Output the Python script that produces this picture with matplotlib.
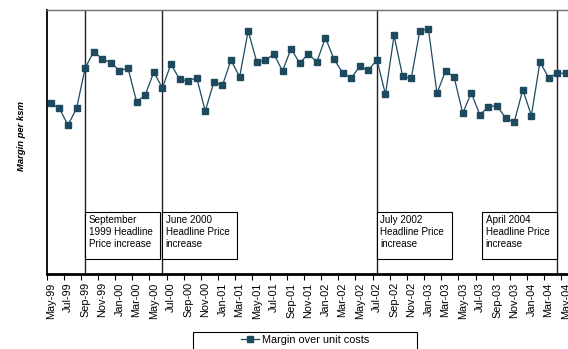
import pandas as pd
import matplotlib.pyplot as plt
import matplotlib.transforms as mtransforms
from matplotlib.patches import Rectangle

plt.rcParams["font.family"] = ["Liberation Sans", "DejaVu Sans"]

# Monthly categories May-99 .. May-04
months = pd.date_range("1999-05-01", "2004-05-01", freq="MS").strftime("%b-%y").tolist()

# Margin over unit costs (index, unlabelled axis)
margin = [
    64.5, 62.6, 56.3, 62.6, 77.8, 84.1, 81.3, 79.9, 76.9, 77.8,
    65.1, 67.7, 76.3, 70.4, 79.3, 73.7, 73.0, 74.2, 61.6, 72.6,
    71.3, 80.9, 74.5, 91.9, 80.2, 80.9, 83.1, 76.8, 85.2, 79.7,
    83.2, 80.2, 89.3, 81.2, 76.1, 74.0, 78.5, 77.0, 81.0, 67.9,
    90.2, 74.7, 74.0, 91.9, 92.7, 68.3, 76.8, 74.4, 60.8, 68.5,
    60.1, 63.3, 63.6, 58.9, 57.4, 69.7, 59.9, 80.2, 74.2, 75.9,
    75.9,
]

# Headline price increases
event_months = ["Sep-99", "Jun-00", "Jul-02", "Apr-04"]
event_labels = [
    "September\n1999 Headline\nPrice increase",
    "June 2000\nHeadline Price\nincrease",
    "July 2002\nHeadline Price\nincrease",
    "April 2004\nHeadline Price\nincrease",
]

line_col = "#1d4a5e"
x = list(range(len(months)))

fig = plt.figure(figsize=(5.68, 3.49), dpi=100)
ax = fig.add_axes([46.5 / 568, 75 / 349, 523.5 / 568, 264.5 / 349])

ax.plot(x, margin, color=line_col, lw=0.9, marker="s", markersize=4.2,
        markerfacecolor=line_col, markeredgecolor=line_col,
        label="Margin over unit costs", zorder=3)

ax.set_xlim(-0.5, len(months) - 0.5)
ax.set_ylim(0, 100)

# labels on every second month, tick marks between categories
ax.set_xticks(x[::2])
ax.set_xticklabels(months[::2], rotation=90, fontsize=7.8)
ax.set_xticks([i - 0.5 for i in x[::2]] + [len(months) - 0.5], minor=True)
ax.tick_params(axis="x", which="major", length=0, pad=6)
ax.tick_params(axis="x", which="minor", length=4.5, width=0.8, direction="out")
ax.set_yticks([])

ax.spines["right"].set_visible(False)
ax.spines["top"].set_color("#707070")
ax.spines["top"].set_linewidth(1.0)
ax.spines["left"].set_linewidth(1.3)
ax.spines["bottom"].set_linewidth(2.0)

fig.text(21.7 / 568, 1 - 136 / 349, "Margin per ksm", rotation=90,
         fontsize=6.8, fontweight="bold", fontstyle="italic",
         ha="center", va="center")

# event lines with their note boxes
trans = mtransforms.blended_transform_factory(ax.transData, ax.transAxes)
box_w = 8.75
box_bottom, box_top = 0.0556, 0.236
for k, (m, lab) in enumerate(zip(event_months, event_labels)):
    xe = months.index(m)
    ax.axvline(xe, color="#222222", lw=1.0, zorder=2)
    left = xe - box_w if k == len(event_months) - 1 else xe
    ax.add_patch(Rectangle((left, box_bottom), box_w, box_top - box_bottom,
                           transform=trans, fill=True, facecolor="white",
                           edgecolor="black", lw=0.8, zorder=4))
    ax.annotate(lab, xy=(left, box_top), xycoords=trans, xytext=(2.5, -2.2),
                textcoords="offset points", ha="left", va="top",
                fontsize=7.1, linespacing=1.3, zorder=5)

# legend box at the foot of the figure
handles, labels = ax.get_legend_handles_labels()
fig.legend(handles, labels, loc="center", bbox_to_anchor=(305 / 568, 1 - 340 / 349),
           frameon=False, fontsize=7.8, handlelength=1.7, handletextpad=0.25)
fig.add_artist(Rectangle((193 / 568, -0.02), 224 / 568, 17.3 / 349 + 0.02,
                         transform=fig.transFigure, fill=False,
                         edgecolor="black", lw=0.8))

fig.savefig("out.png", dpi=100)
